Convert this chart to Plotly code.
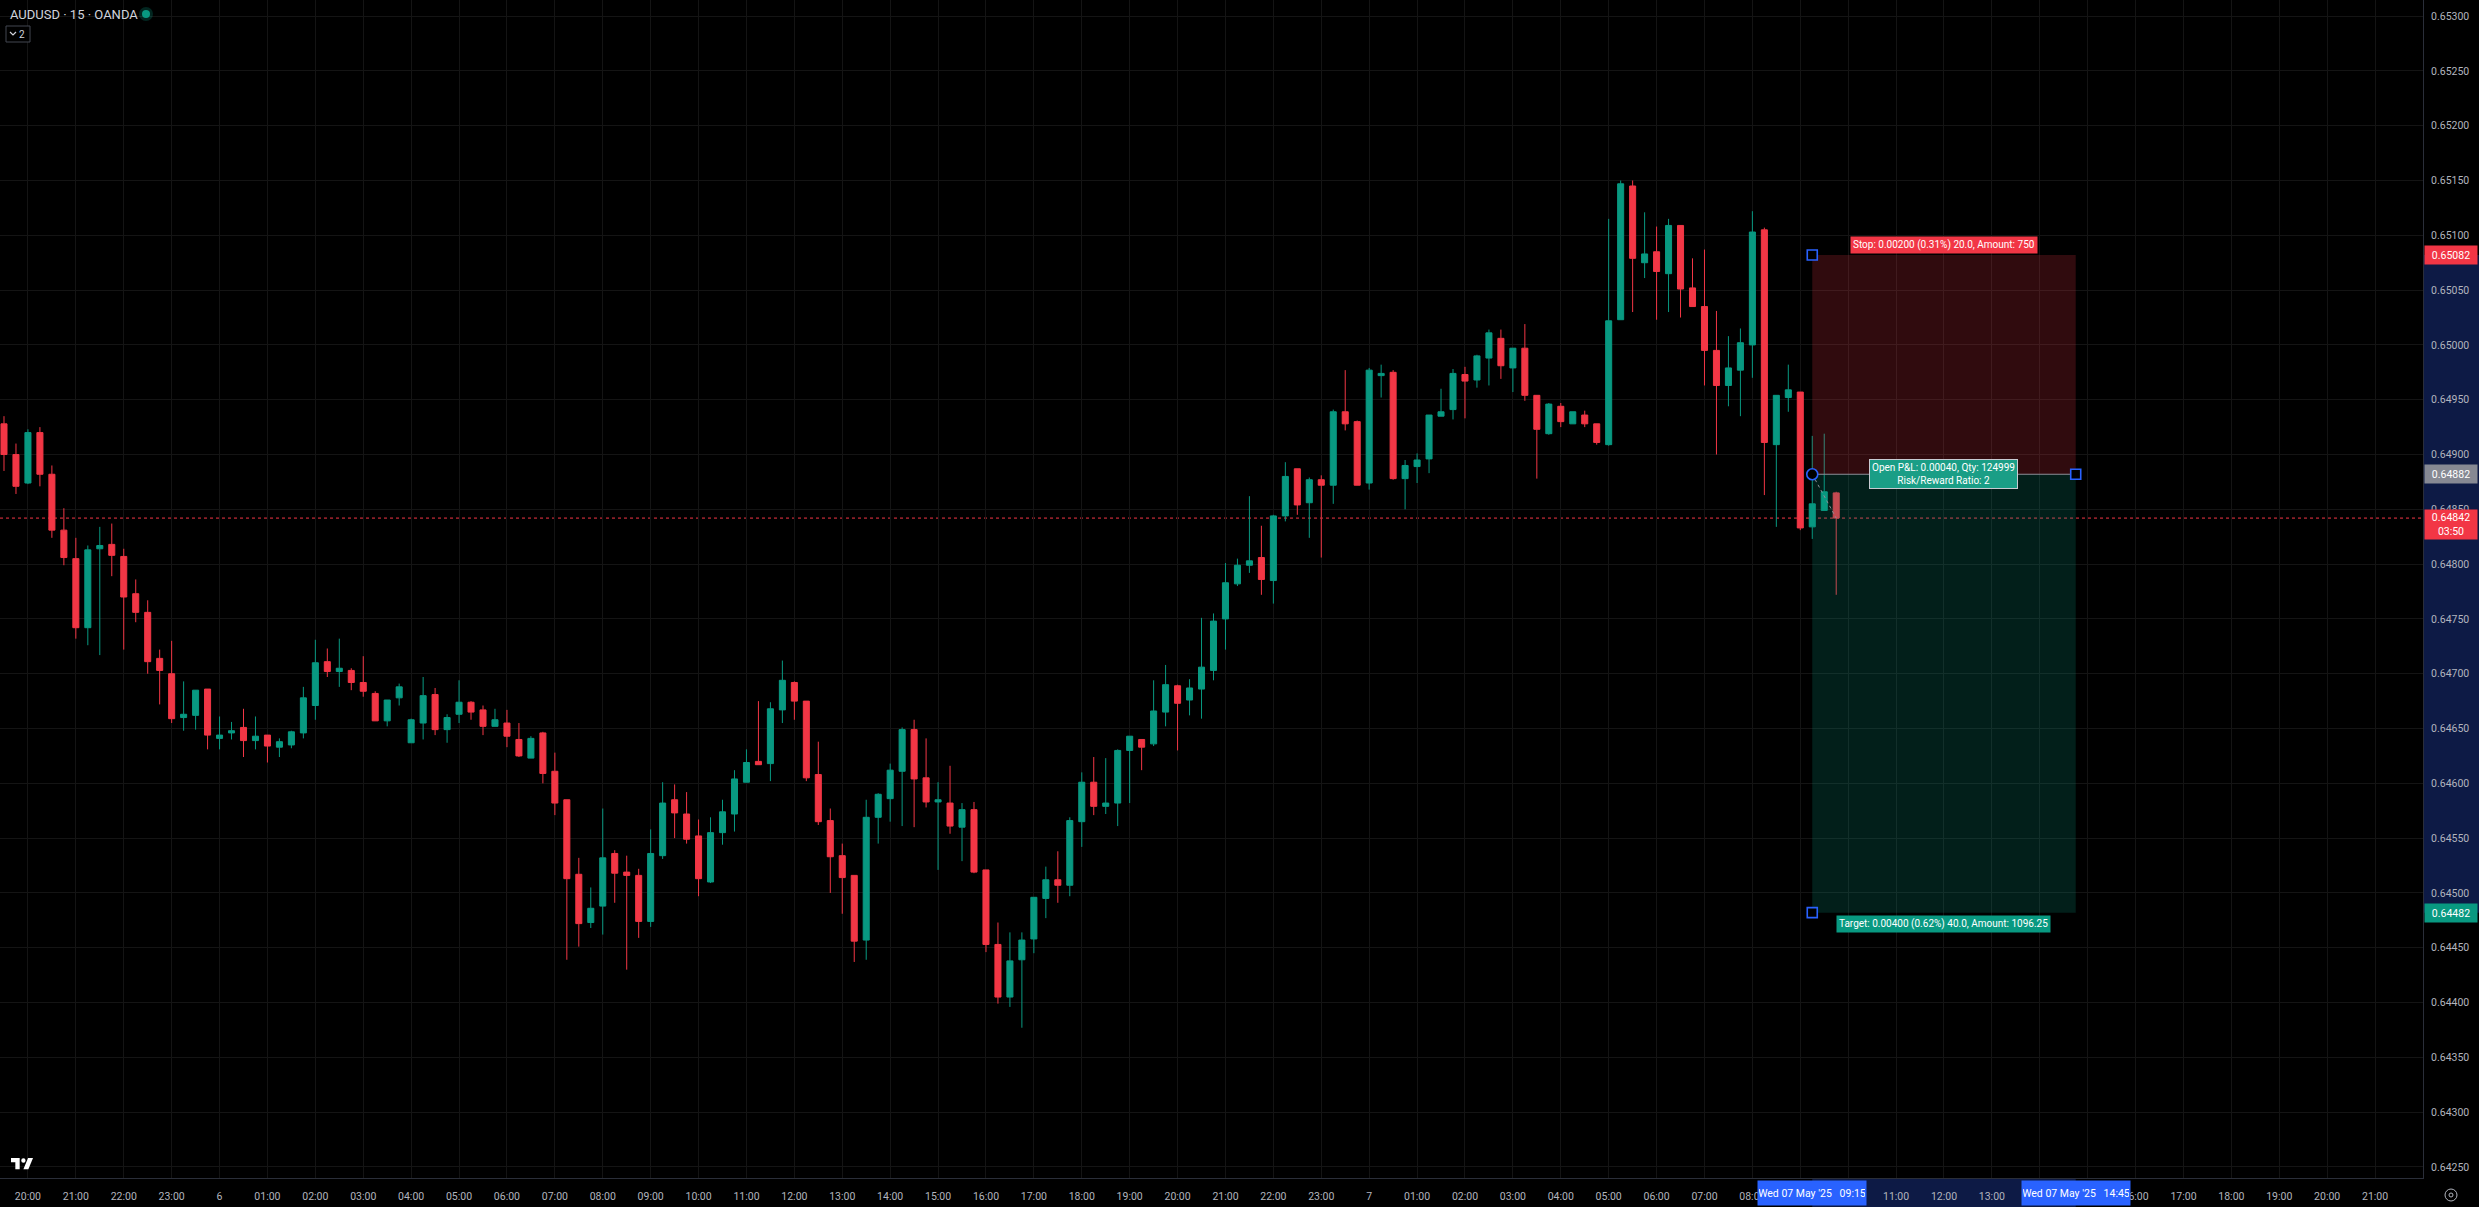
import pandas as pd
import plotly.graph_objects as go

# ---------------- data (AUDUSD, 15 min, OANDA) ----------------
bar_start = "2025-05-05 19:30"
bar_freq = "15min"

open_ = [
    0.64928, 0.64900, 0.64874, 0.64920, 0.64882, 0.64831, 0.64805, 0.64742, 0.64814, 0.64818,
    0.64807, 0.64773, 0.64756, 0.64714, 0.64700, 0.64660, 0.64662, 0.64686, 0.64641, 0.64646,
    0.64651, 0.64639, 0.64644, 0.64633, 0.64635, 0.64646, 0.64671, 0.64711, 0.64702, 0.64703,
    0.64692, 0.64682, 0.64657, 0.64678, 0.64637, 0.64655, 0.64681, 0.64649, 0.64663, 0.64674,
    0.64667, 0.64652, 0.64655, 0.64640, 0.64623, 0.64646, 0.64611, 0.64585, 0.64517, 0.64473,
    0.64488, 0.64536, 0.64519, 0.64516, 0.64474, 0.64534, 0.64585, 0.64572, 0.64552, 0.64510,
    0.64555, 0.64572, 0.64601, 0.64620, 0.64618, 0.64667, 0.64692, 0.64675, 0.64608, 0.64566,
    0.64534, 0.64516, 0.64457, 0.64569, 0.64586, 0.64611, 0.64649, 0.64605, 0.64583, 0.64582,
    0.64560, 0.64576, 0.64521, 0.64453, 0.64405, 0.64439, 0.64458, 0.64495, 0.64512, 0.64507,
    0.64565, 0.64601, 0.64579, 0.64582, 0.64630, 0.64640, 0.64636, 0.64665, 0.64689, 0.64676,
    0.64686, 0.64703, 0.64750, 0.64782, 0.64799, 0.64806, 0.64785, 0.64844, 0.64887, 0.64856,
    0.64877, 0.64872, 0.64939, 0.64930, 0.64874, 0.64972, 0.64975, 0.64878, 0.64889, 0.64896,
    0.64935, 0.64941, 0.64973, 0.64968, 0.64988, 0.65006, 0.64979, 0.64997, 0.64954, 0.64919,
    0.64944, 0.64928, 0.64936, 0.64928, 0.64909, 0.65023, 0.65145, 0.65075, 0.65085, 0.65065,
    0.65109, 0.65052, 0.65035, 0.64995, 0.64963, 0.64977, 0.65000, 0.65105, 0.64909, 0.64952,
    0.64957, 0.64834, 0.64849, 0.64865,
]
high = [
    0.64935, 0.64910, 0.64923, 0.64925, 0.64890, 0.64851, 0.64824, 0.64817, 0.64834, 0.64837,
    0.64814, 0.64786, 0.64767, 0.64722, 0.64730, 0.64693, 0.64685, 0.64686, 0.64661, 0.64656,
    0.64668, 0.64661, 0.64644, 0.64641, 0.64648, 0.64688, 0.64731, 0.64723, 0.64732, 0.64705,
    0.64716, 0.64684, 0.64676, 0.64691, 0.64659, 0.64697, 0.64687, 0.64663, 0.64694, 0.64675,
    0.64671, 0.64668, 0.64667, 0.64655, 0.64643, 0.64647, 0.64628, 0.64585, 0.64532, 0.64505,
    0.64577, 0.64539, 0.64534, 0.64522, 0.64558, 0.64601, 0.64599, 0.64592, 0.64567, 0.64569,
    0.64585, 0.64612, 0.64631, 0.64675, 0.64674, 0.64712, 0.64693, 0.64675, 0.64638, 0.64577,
    0.64545, 0.64516, 0.64585, 0.64591, 0.64618, 0.64651, 0.64658, 0.64641, 0.64601, 0.64616,
    0.64582, 0.64583, 0.64521, 0.64473, 0.64464, 0.64464, 0.64496, 0.64524, 0.64538, 0.64569,
    0.64610, 0.64624, 0.64623, 0.64631, 0.64643, 0.64640, 0.64694, 0.64708, 0.64690, 0.64695,
    0.64751, 0.64755, 0.64801, 0.64805, 0.64862, 0.64835, 0.64845, 0.64893, 0.64887, 0.64879,
    0.64881, 0.64941, 0.64977, 0.64931, 0.64979, 0.64982, 0.64977, 0.64895, 0.64901, 0.64936,
    0.64960, 0.64978, 0.64980, 0.64991, 0.65014, 0.65014, 0.64997, 0.65019, 0.64954, 0.64947,
    0.64947, 0.64939, 0.64940, 0.64928, 0.65115, 0.65150, 0.65150, 0.65121, 0.65108, 0.65115,
    0.65109, 0.65079, 0.65087, 0.65031, 0.65008, 0.65015, 0.65122, 0.65107, 0.64954, 0.64982,
    0.64957, 0.64917, 0.64919, 0.64866,
]
low = [
    0.64885, 0.64864, 0.64873, 0.64871, 0.64824, 0.64799, 0.64732, 0.64726, 0.64717, 0.64789,
    0.64722, 0.64747, 0.64700, 0.64672, 0.64655, 0.64648, 0.64649, 0.64631, 0.64631, 0.64640,
    0.64624, 0.64631, 0.64619, 0.64624, 0.64632, 0.64641, 0.64658, 0.64697, 0.64688, 0.64685,
    0.64679, 0.64657, 0.64652, 0.64671, 0.64637, 0.64640, 0.64644, 0.64637, 0.64655, 0.64658,
    0.64644, 0.64652, 0.64633, 0.64624, 0.64623, 0.64600, 0.64571, 0.64439, 0.64451, 0.64468,
    0.64462, 0.64491, 0.64430, 0.64459, 0.64469, 0.64531, 0.64550, 0.64545, 0.64497, 0.64509,
    0.64544, 0.64556, 0.64601, 0.64617, 0.64602, 0.64655, 0.64658, 0.64602, 0.64562, 0.64500,
    0.64481, 0.64437, 0.64439, 0.64545, 0.64565, 0.64561, 0.64560, 0.64578, 0.64521, 0.64554,
    0.64529, 0.64518, 0.64446, 0.64399, 0.64396, 0.64377, 0.64445, 0.64477, 0.64491, 0.64497,
    0.64542, 0.64571, 0.64572, 0.64561, 0.64582, 0.64612, 0.64634, 0.64652, 0.64630, 0.64662,
    0.64659, 0.64694, 0.64722, 0.64780, 0.64792, 0.64772, 0.64764, 0.64839, 0.64845, 0.64824,
    0.64806, 0.64855, 0.64922, 0.64872, 0.64868, 0.64952, 0.64877, 0.64850, 0.64874, 0.64883,
    0.64935, 0.64932, 0.64933, 0.64961, 0.64963, 0.64969, 0.64957, 0.64949, 0.64878, 0.64918,
    0.64925, 0.64928, 0.64925, 0.64909, 0.64908, 0.65023, 0.65030, 0.65061, 0.65023, 0.65030,
    0.65025, 0.65035, 0.64963, 0.64900, 0.64944, 0.64935, 0.64970, 0.64863, 0.64834, 0.64939,
    0.64831, 0.64823, 0.64849, 0.64772,
]
close = [
    0.64900, 0.64871, 0.64920, 0.64882, 0.64831, 0.64806, 0.64742, 0.64813, 0.64817, 0.64808,
    0.64770, 0.64756, 0.64711, 0.64703, 0.64659, 0.64663, 0.64685, 0.64644, 0.64644, 0.64648,
    0.64639, 0.64643, 0.64634, 0.64638, 0.64647, 0.64678, 0.64710, 0.64702, 0.64705, 0.64692,
    0.64684, 0.64657, 0.64676, 0.64688, 0.64658, 0.64680, 0.64649, 0.64660, 0.64674, 0.64665,
    0.64652, 0.64658, 0.64643, 0.64625, 0.64641, 0.64609, 0.64582, 0.64513, 0.64472, 0.64486,
    0.64532, 0.64518, 0.64516, 0.64474, 0.64536, 0.64582, 0.64573, 0.64549, 0.64513, 0.64555,
    0.64574, 0.64604, 0.64619, 0.64617, 0.64668, 0.64694, 0.64675, 0.64605, 0.64565, 0.64533,
    0.64514, 0.64456, 0.64569, 0.64590, 0.64612, 0.64649, 0.64604, 0.64583, 0.64585, 0.64561,
    0.64576, 0.64519, 0.64453, 0.64405, 0.64438, 0.64457, 0.64496, 0.64512, 0.64507, 0.64566,
    0.64601, 0.64579, 0.64582, 0.64630, 0.64643, 0.64633, 0.64666, 0.64690, 0.64673, 0.64687,
    0.64706, 0.64748, 0.64783, 0.64799, 0.64803, 0.64786, 0.64844, 0.64880, 0.64854, 0.64877,
    0.64872, 0.64939, 0.64928, 0.64872, 0.64977, 0.64974, 0.64878, 0.64890, 0.64895, 0.64936,
    0.64939, 0.64974, 0.64967, 0.64990, 0.65011, 0.64981, 0.64997, 0.64954, 0.64923, 0.64946,
    0.64930, 0.64939, 0.64928, 0.64911, 0.65022, 0.65147, 0.65079, 0.65083, 0.65067, 0.65109,
    0.65051, 0.65035, 0.64995, 0.64963, 0.64979, 0.65002, 0.65103, 0.64911, 0.64954, 0.64959,
    0.64833, 0.64855, 0.64866, 0.64842,
]

# long-position tool
entry_price = 0.64882
stop_price = 0.65082
target_price = 0.64482
pos_start = pd.Timestamp("2025-05-07 09:15")
pos_end = pd.Timestamp("2025-05-07 14:45")
countdown = "03:50"

stop_text = "Stop: 0.00200 (0.31%) 20.0, Amount: 750"
pnl_text = "Open P&amp;L: 0.00040, Qty: 124999<br>Risk/Reward Ratio: 2"
target_text = "Target: 0.00400 (0.62%) 40.0, Amount: 1096.25"
start_label = "Wed 07 May '25\u00a0\u00a0\u00a009:15"
end_label = "Wed 07 May '25\u00a0\u00a0\u00a014:45"
title_text = "AUDUSD \u00b7 15 \u00b7 OANDA"

# axes
x_tick_times = pd.date_range("2025-05-05 20:00", "2025-05-07 21:00", freq="h")
x_tick_labels = [t.strftime("%d").lstrip("0") if t.hour == 0 else t.strftime("%H:%M") for t in x_tick_times]
# hour labels hidden behind the highlighted time-scale labels
x_hidden_ticks = ["2025-05-07 09:00", "2025-05-07 10:00", "2025-05-07 14:00", "2025-05-07 15:00"]
y_tick_labels = ["0.64250", "0.64300", "0.64350", "0.64400", "0.64450", "0.64500", "0.64550",
                 "0.64600", "0.64650", "0.64700", "0.64750", "0.64800", "0.64850", "0.64900",
                 "0.64950", "0.65000", "0.65050", "0.65100", "0.65150", "0.65200", "0.65250", "0.65300"]
y_tick_vals = [float(s) for s in y_tick_labels]
x_range = [pd.Timestamp("2025-05-05 19:25"), pd.Timestamp("2025-05-07 22:00")]
y_range = [0.642399, 0.653147]

# ---------------- style ----------------
UP = "#089981"
DOWN = "#F23645"
BG = "#000000"
GRID = "#141414"
AXIS_TXT = "#b2b5be"
NAVY = "#0d1a45"
BLUE = "#2962FF"
FONT = "Roboto, Liberation Sans, sans-serif"

W_PLOT, H_PLOT = 2423, 1178
M_R, M_B = 2479 - W_PLOT, 1207 - H_PLOT


def px(x):
    return x / W_PLOT


def py(y):
    return 1 - y / H_PLOT


times = pd.date_range(bar_start, periods=len(open_), freq=bar_freq)
last_price = close[-1]
last_time = times[-1]
hidden = set(pd.to_datetime(x_hidden_ticks))
x_tick_text = ["" if t in hidden else lab for t, lab in zip(x_tick_times, x_tick_labels)]

fig = go.Figure()

fig.add_trace(go.Candlestick(
    x=times, open=open_, high=high, low=low, close=close,
    increasing=dict(line=dict(color=UP, width=1), fillcolor=UP),
    decreasing=dict(line=dict(color=DOWN, width=1), fillcolor=DOWN),
    whiskerwidth=0, showlegend=False, hoverinfo="skip",
))

# stop / target zones (scatter layer sits above the candles)
fig.add_trace(go.Scatter(
    x=[pos_start, pos_end, pos_end, pos_start, pos_start],
    y=[entry_price, entry_price, stop_price, stop_price, entry_price],
    fill="toself", fillcolor="rgba(242,54,69,0.2)", line=dict(width=0),
    mode="lines", showlegend=False, hoverinfo="skip"))
fig.add_trace(go.Scatter(
    x=[pos_start, pos_end, pos_end, pos_start, pos_start],
    y=[target_price, target_price, entry_price, entry_price, target_price],
    fill="toself", fillcolor="rgba(8,153,129,0.2)", line=dict(width=0),
    mode="lines", showlegend=False, hoverinfo="skip"))
# entry line
fig.add_trace(go.Scatter(
    x=[pos_start, pos_end], y=[entry_price, entry_price], mode="lines",
    line=dict(color="#8c8f98", width=1), showlegend=False, hoverinfo="skip"))
# dashed line entry -> current bar
fig.add_trace(go.Scatter(
    x=[pos_start, last_time], y=[entry_price, last_price], mode="lines",
    line=dict(color="#8c8f98", width=1, dash="dot"), showlegend=False, hoverinfo="skip"))
# handles
fig.add_trace(go.Scatter(
    x=[pos_start, pos_start, pos_end], y=[stop_price, target_price, entry_price],
    mode="markers", marker=dict(symbol="square", size=10, color=BG, line=dict(color=BLUE, width=1.6)),
    showlegend=False, hoverinfo="skip"))
fig.add_trace(go.Scatter(
    x=[pos_start], y=[entry_price],
    mode="markers", marker=dict(symbol="circle", size=11, color=BG, line=dict(color=BLUE, width=1.6)),
    showlegend=False, hoverinfo="skip"))

shapes = []
# current price dotted line
shapes.append(dict(type="line", xref="paper", x0=0, x1=1, yref="y", y0=last_price, y1=last_price,
                   line=dict(color=DOWN, width=1, dash="dot"), layer="below"))
# highlighted bands on the price and time scales
shapes.append(dict(type="rect", xref="paper", x0=1, x1=2479 / W_PLOT, yref="y", y0=target_price, y1=stop_price,
                   fillcolor=NAVY, line=dict(width=0), layer="below"))
shapes.append(dict(type="rect", xref="x", x0=pos_start, x1=pos_end, yref="paper", y0=-M_B / H_PLOT, y1=0,
                   fillcolor=NAVY, line=dict(width=0), layer="below"))
# status dot next to title
shapes.append(dict(type="circle", xref="paper", yref="paper", x0=px(139), x1=px(153), y0=py(21), y1=py(7),
                   fillcolor="rgba(8,153,129,0.25)", line=dict(width=0)))
shapes.append(dict(type="circle", xref="paper", yref="paper", x0=px(142), x1=px(150), y0=py(18), y1=py(10),
                   fillcolor=UP, line=dict(width=0)))
# collapse box
shapes.append(dict(type="rect", xref="paper", yref="paper", x0=px(6), x1=px(30), y0=py(42), y1=py(26),
                   fillcolor=BG, line=dict(color="#434651", width=1)))
# chevron inside the collapse box
shapes.append(dict(type="path", xref="paper", yref="paper",
                   path=f"M{px(10):.6f},{py(32):.6f} L{px(13):.6f},{py(35):.6f} L{px(16):.6f},{py(32):.6f}",
                   line=dict(color="#d1d4dc", width=1.2)))


# TradingView logo (bottom-left)
def lp(u, v):
    return f"{px(11 + u * 0.62):.6f},{py(1158 + (v - 4) * 0.62):.6f}"


shapes.append(dict(type="path", xref="paper", yref="paper",
                   path=f"M{lp(0,4)} L{lp(14,4)} L{lp(14,22)} L{lp(7,22)} L{lp(7,11)} L{lp(0,11)} Z",
                   fillcolor="#ffffff", line=dict(width=0)))
shapes.append(dict(type="path", xref="paper", yref="paper",
                   path=f"M{lp(20,22)} L{lp(27.5,4)} L{lp(35.5,4)} L{lp(28,22)} Z",
                   fillcolor="#ffffff", line=dict(width=0)))
shapes.append(dict(type="circle", xref="paper", yref="paper",
                   x0=px(11 + 16.5 * 0.62), x1=px(11 + 23.5 * 0.62), y0=py(1158 + 7.5 * 0.62), y1=py(1158 + 0.5 * 0.62),
                   fillcolor="#ffffff", line=dict(width=0)))
# settings icon (bottom-right)
shapes.append(dict(type="circle", xref="paper", yref="paper", x0=px(2445), x1=px(2457), y0=py(1201), y1=py(1189),
                   line=dict(color=AXIS_TXT, width=1)))
shapes.append(dict(type="circle", xref="paper", yref="paper", x0=px(2449), x1=px(2453), y0=py(1197), y1=py(1193),
                   line=dict(color=AXIS_TXT, width=1)))

mid_time = pos_start + (pos_end - pos_start) / 2
ann = []
ann.append(dict(text=title_text, xref="paper", yref="paper", x=px(8), y=py(14), xanchor="left", yanchor="middle",
                showarrow=False, font=dict(color="#d1d4dc", size=13, family=FONT)))
ann.append(dict(text="2", xref="paper", yref="paper", x=px(22), y=py(34), xanchor="center", yanchor="middle",
                showarrow=False, font=dict(color="#d1d4dc", size=10, family=FONT)))
# position labels
ann.append(dict(text=stop_text, x=mid_time, y=stop_price, xref="x", yref="y", yanchor="bottom", yshift=1,
                showarrow=False, bgcolor=DOWN, borderpad=2, font=dict(color="#ffffff", size=10, family=FONT)))
ann.append(dict(text=pnl_text, x=mid_time, y=entry_price, xref="x", yref="y", yanchor="middle",
                showarrow=False, bgcolor="#1a9e86", bordercolor="#c8cbd2", borderwidth=1, borderpad=2,
                font=dict(color="#ffffff", size=10, family=FONT)))
ann.append(dict(text=target_text, x=mid_time, y=target_price, xref="x", yref="y", yanchor="top", yshift=-2,
                showarrow=False, bgcolor=UP, borderpad=2, font=dict(color="#ffffff", size=10, family=FONT)))
# price-scale labels
for val, txt, col, h in [(stop_price, f"{stop_price:.5f}", DOWN, 16),
                         (entry_price, f"{entry_price:.5f}", "#868993", 16),
                         (target_price, f"{target_price:.5f}", UP, 16)]:
    ann.append(dict(text=txt, xref="paper", yref="y", x=1, y=val, xanchor="left", yanchor="middle", xshift=1,
                    width=50, height=h, showarrow=False, bgcolor=col,
                    font=dict(color="#ffffff", size=10.5, family=FONT)))
ann.append(dict(text=f"{last_price:.5f}<br>{countdown}", xref="paper", yref="y", x=1, y=last_price,
                xanchor="left", yanchor="top", xshift=1, yshift=9, width=50, height=27, showarrow=False,
                bgcolor=DOWN, font=dict(color="#ffffff", size=10.5, family=FONT)))
# time-scale labels
for t, txt in [(pos_start, start_label), (pos_end, end_label)]:
    ann.append(dict(text=txt, xref="x", yref="paper", x=t, y=0, xanchor="center", yanchor="middle", yshift=-15,
                    width=106, height=22, showarrow=False, bgcolor=BLUE,
                    font=dict(color="#ffffff", size=10.5, family=FONT)))

fig.update_layout(
    width=2479, height=1207,
    margin=dict(l=0, r=M_R, t=0, b=M_B, pad=0),
    paper_bgcolor=BG, plot_bgcolor=BG,
    showlegend=False, boxgap=0.28,
    shapes=shapes, annotations=ann,
    font=dict(family=FONT, color=AXIS_TXT),
    xaxis=dict(type="date", range=x_range, tickvals=list(x_tick_times), ticktext=x_tick_text,
               showgrid=True, gridcolor=GRID, gridwidth=1, zeroline=False, ticks="",
               tickfont=dict(size=10.5, color=AXIS_TXT, family=FONT), ticklabelstandoff=8,
               showline=True, linecolor="#2a2e39", linewidth=1, automargin=False,
               rangeslider=dict(visible=False), fixedrange=True),
    yaxis=dict(range=y_range, side="right", tickvals=y_tick_vals, ticktext=y_tick_labels,
               showgrid=True, gridcolor=GRID, gridwidth=1, zeroline=False, ticks="",
               tickfont=dict(size=10.5, color=AXIS_TXT, family=FONT), ticklabelstandoff=5,
               showline=True, linecolor="#2a2e39", linewidth=1, automargin=False, fixedrange=True),
)

fig.write_html("out.html", config={"displayModeBar": False},
               post_script="document.body.style.margin='0';document.body.style.overflow='hidden';")
